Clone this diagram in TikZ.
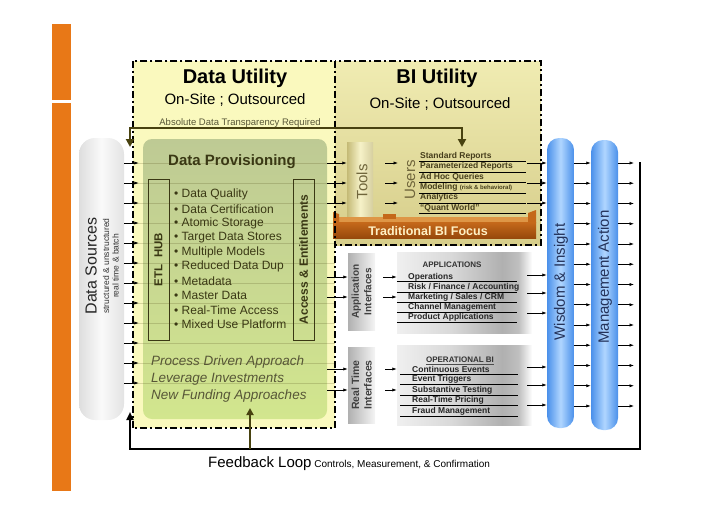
\documentclass[tikz,border=0pt]{standalone}
\usepackage{fontspec}
\setmainfont{Liberation Sans}
\usetikzlibrary{arrows.meta}
\definecolor{orng}{RGB}{232,120,23}
\definecolor{duyel}{RGB}{250,249,190}
\definecolor{olivetxt}{RGB}{58,56,20}
\definecolor{oliveline}{RGB}{72,66,16}
\definecolor{bitop}{RGB}{240,236,178}
\definecolor{bibot}{RGB}{214,205,138}
\definecolor{dptop}{RGB}{190,202,148}
\definecolor{dpbot}{RGB}{210,230,142}
\definecolor{blueE}{RGB}{74,144,234}
\definecolor{blueC}{RGB}{176,214,255}
\definecolor{brownD}{RGB}{150,72,10}
\definecolor{brownM}{RGB}{196,104,26}
\definecolor{brownL}{RGB}{222,150,70}
\definecolor{cream}{RGB}{255,240,196}
\definecolor{listtxt}{RGB}{70,62,28}
\definecolor{toolL}{RGB}{196,186,118}
\definecolor{toolC}{RGB}{246,242,200}
\definecolor{tooltxt}{RGB}{112,102,60}
\definecolor{bluetxt}{RGB}{35,50,90}
\pgfdeclarehorizontalshading{panelshade}{100bp}{color(0bp)=(gray!12); color(25bp)=(gray!12); color(45bp)=(gray!30); color(64bp)=(gray!62); color(70bp)=(gray!50); color(75bp)=(white); color(100bp)=(white)}
\begin{document}
\begin{tikzpicture}[x=1pt,y=-1pt,
  arr/.style={-{Latex[length=4.5pt,width=3.2pt]}, line width=0.7pt, draw=black},
  dashbox/.style={draw=black, line width=1.5pt, dash pattern=on 7pt off 3pt on 2pt off 3pt},
  pill/.style={draw=none, inner sep=0pt},
  ulist/.style={anchor=west, inner sep=0pt, text=listtxt, font=\bfseries\fontsize{8.5}{10}\selectfont},
  alist/.style={anchor=west, inner sep=0pt, text=black!85, font=\bfseries\fontsize{8.5}{10}\selectfont},
  bul/.style={anchor=west, inner sep=0pt, text=olivetxt, font=\fontsize{12}{14}\selectfont},
  ital/.style={anchor=west, inner sep=0pt, text=olivetxt!85, font=\itshape\fontsize{13.5}{16}\selectfont},
  uline/.style={line width=0.8pt, draw=black},
  rottxt/.style={rotate=90, inner sep=0pt},
]
\useasboundingbox (0,0) rectangle (728,514);
% orange bar
\fill[orng] (52,24) rectangle (71,100);
\fill[orng] (52,103) rectangle (71,491);

% utility backgrounds
\node[pill, fill=duyel, minimum width=202pt, minimum height=367pt] (du) at (234,244.5) {};
\node[pill, top color=bitop, bottom color=bibot, minimum width=206pt, minimum height=184pt] (bi) at (438,153) {};

% data provisioning
\node[pill, rounded corners=9pt, top color=dptop, bottom color=dpbot, minimum width=184pt, minimum height=280pt] (dp) at (235,279) {};
\foreach \y in {163,183,...,383}
  \draw[oliveline, opacity=0.2, line width=0.5pt] (du.west |- 0,\y) -- (du.east |- 0,\y);

% titles
\node[font=\bfseries\fontsize{20}{24}\selectfont] (dut) at (235,78) {Data Utility};
\node[font=\fontsize{15}{18}\selectfont] (dus) at (235,100.5) {On-Site ; Outsourced};
\node[font=\bfseries\fontsize{20}{24}\selectfont] (bit) at (437,78) {BI Utility};
\node[font=\fontsize{15}{18}\selectfont] (bis) at (440,104) {On-Site ; Outsourced};
\node[font=\fontsize{9.5}{11}\selectfont, text=olivetxt!85, inner sep=0pt] (adt) at (240,123) {Absolute Data Transparency Required};

\node[font=\bfseries\fontsize{15}{18}\selectfont, text=olivetxt] (dpt) at (232,162) {Data Provisioning};

% ETL HUB and Access boxes
\node[draw=olivetxt, line width=0.8pt, minimum width=21pt, minimum height=161pt, inner sep=0pt] (etl) at (158.5,259.5) {};
\node[rottxt, font=\bfseries\fontsize{11.5}{13}\selectfont, text=olivetxt] (etlt) at (etl.center) {ETL\ \ HUB};
\node[draw=olivetxt, line width=0.8pt, minimum width=21pt, minimum height=161pt, inner sep=0pt] (acc) at (303.5,259.5) {};
\node[rottxt, font=\bfseries\fontsize{12}{14}\selectfont, text=olivetxt] (acct) at (acc.center) {Access \& Entitlements};

% bullets
\foreach \t [count=\i from 0] in {Data Quality, Data Certification, Atomic Storage, Target Data Stores, Multiple Models, Reduced Data Dup, Metadata, Master Data, Real-Time Access, Mixed Use Platform}
  \node[bul] (bl\i) at (174,194.5+14.44*\i) {\textbullet\ \t};

\node[ital] (it1) at (151,362) {Process Driven Approach};
\node[ital] (it2) at (151,379) {Leverage Investments};
\node[ital] (it3) at (151,396) {New Funding Approaches};

% data sources
\node[pill, rounded corners=16pt, left color=gray!26, right color=gray!22, middle color=gray!4, minimum width=45pt, minimum height=282pt] (ds) at (101.5,279) {};
\node[rottxt, font=\fontsize{16}{19}\selectfont, text=black!85] (dst) at (91,266) {Data Sources};
\node[rottxt, align=center, font=\fontsize{8.5}{9.5}\selectfont, text=black!80] (dss) at (110.75,266) {structured \& unstructured\\real time \& batch};
\foreach \y in {163,183,...,383}
  \draw[arr, shorten >=-6pt] (ds.east |- 0,\y) -- (du.west |- 0,\y);

% tools / users
\node[pill, left color=toolL, right color=toolL!70!white, middle color=toolC, minimum width=26pt, minimum height=77pt] (tools) at (360,180.5) {};
\node[rottxt, font=\fontsize{15}{18}\selectfont, text=tooltxt] (toolst) at (362,182) {Tools};
\node[rottxt, font=\fontsize{15}{18}\selectfont, text=tooltxt] (users) at (410,180) {Users};
\coordinate (uin) at (398,180);
\coordinate (outL) at (527,180);

% traditional BI focus tray
\fill[brownL] (337,217) -- (533,217) -- (531,223) -- (339,223) -- cycle;
\fill[brownM] (333,212) -- (339,214) -- (339,223) -- (333,223) -- cycle;
\fill[brownM] (528,213) -- (536,210) -- (536,223) -- (528,223) -- cycle;
\fill[brownM] (383,214) rectangle (396,219);
\node[pill, top color=brownM, bottom color=brownD, minimum width=203pt, minimum height=16pt] (tbf) at (434.5,230.5) {};
\node[font=\bfseries\fontsize{12.5}{15}\selectfont, text=cream] (tbft) at (428,231) {Traditional BI Focus};

% users list
\node[ulist] (u0) at (420,156) {Standard Reports};
\node[ulist] (u1) at (420,166.4) {Parameterized Reports};
\node[ulist] (u2) at (420,176.8) {Ad Hoc Queries};
\node[ulist] (u3) at (420,187.2) {Modeling {\fontsize{6}{7}\selectfont (risk \& behavioral)}};
\node[ulist] (u4) at (420,197.6) {Analytics};
\node[ulist] (u5) at (420,208) {“Quant World”};
\foreach \i in {0,...,5}
  \draw[uline] (419,161.8+10.4*\i) -- (526,161.8+10.4*\i);
\foreach \y in {163,183,203} {
  \draw[arr] (dp.east |- 0,\y) -- (tools.west |- 0,\y);
  \draw[arr, shorten <=12pt] (tools.east |- 0,\y) -- (uin |- 0,\y);
}

% applications
\node[pill, left color=gray!62, right color=gray!8, minimum width=27pt, minimum height=77pt] (appif) at (361.5,291.5) {};
\node[rottxt, align=center, font=\bfseries\fontsize{10}{12.5}\selectfont, text=black!75] (appift) at (appif.center) {Application\\Interfaces};
\node[pill, shading=panelshade, minimum width=135pt, minimum height=81pt] (apps) at (464.5,292.5) {};
\node[font=\bfseries\fontsize{8}{10}\selectfont, text=black!80, inner sep=0pt] (appst) at (452,265) {APPLICATIONS};
\foreach \t [count=\i from 0] in {Operations, {Risk / Finance / Accounting}, {Marketing / Sales / CRM}, Channel Management, Product Applications}
  \node[alist] (a\i) at (408,277+10.1*\i) {\t};
\foreach \i in {0,...,4}
  \draw[uline] (apps.west |- 0,281.8+10.1*\i) -- ++(120,0);
\foreach \y in {277,297} {
  \draw[arr] (dp.east |- 0,\y) -- (appif.west |- 0,\y);
  \draw[arr, shorten <=8pt] (appif.east |- 0,\y) -- (apps.west |- 0,\y);
}

% operational BI
\node[pill, left color=gray!62, right color=gray!8, minimum width=27pt, minimum height=76pt] (rtif) at (361.5,385) {};
\node[rottxt, align=center, font=\bfseries\fontsize{10.5}{12.5}\selectfont, text=black!75] (rtift) at (rtif.center) {Real Time\\Interfaces};
\node[pill, shading=panelshade, minimum width=135pt, minimum height=80pt] (obi) at (464.5,385) {};
\node[font=\bfseries\fontsize{8}{10}\selectfont, text=black!80, inner sep=0pt] (obit) at (460,360) {OPERATIONAL BI};
\draw[line width=0.5pt, black!70] (obit.south west) ++(0,1.5) -- ([yshift=-1.5pt]obit.south east);
\foreach \t [count=\i from 0] in {Continuous Events, Event Triggers, Substantive Testing, Real-Time Pricing, Fraud Management}
  \node[alist] (o\i) at (412,369+10.5*\i) {\t};
\foreach \i in {0,...,4}
  \draw[uline] (400,374.2+10.5*\i) -- ++(118,0);
\foreach \y in {369,390} {
  \draw[arr] (dp.east |- 0,\y) -- (rtif.west |- 0,\y);
  \draw[arr, shorten <=10pt] (rtif.east |- 0,\y) -- (obi.west |- 0,\y);
}

% wisdom / management
\node[pill, rounded corners=12pt, left color=blueE, right color=blueE, middle color=blueC, minimum width=27pt, minimum height=290pt] (wis) at (560.5,283) {};
\node[pill, rounded corners=12pt, left color=blueE, right color=blueE, middle color=blueC, minimum width=27pt, minimum height=290pt] (mgmt) at (604.5,285) {};
\node[rottxt, font=\fontsize{15}{18}\selectfont, text=bluetxt] (wist) at (561,282) {Wisdom \& Insight};
\node[rottxt, font=\fontsize{15}{18}\selectfont, text=bluetxt] (mgmtt) at (605,277) {Management Action};
\foreach \y in {163,183,203,275,293,313,367,385,405}
  \draw[arr] (outL |- 0,\y) -- (wis.west |- 0,\y);

% feedback loop
\coordinate (fbtop) at (640,162);
\coordinate (fbbr) at (640,449);
\coordinate (fbbl) at (130,449);
\coordinate (fbend) at (130,412);
\coordinate (fb2) at (250,449);
\coordinate (fb2end) at (250,408);
\foreach \i in {0,...,12} {
  \pgfmathsetmacro\yy{163+20.25*\i}
  \draw[arr] (wis.east |- 0,\yy) -- (mgmt.west |- 0,\yy);
  \draw[arr, shorten >=6pt] (mgmt.east |- 0,\yy) -- (fbtop |- 0,\yy);
}

% dashed utility borders
\draw[dashbox] (du.north west) rectangle (du.south east);
\draw[dashbox] (bi.north west) rectangle (bi.south east);

% transparency arrow
\coordinate (tl) at (130,147);
\coordinate (tm) at (462,128);
\coordinate (tr) at (462,147);
\draw[oliveline, line width=2.4pt, {Triangle[length=8pt,width=8pt]}-{Triangle[length=8pt,width=8pt]}] (tl) |- (tm) -- (tr);

\draw[black, line width=2.2pt, -{Triangle[length=8pt,width=7pt]}] (fbtop) -- (fbbr) -- (fbbl) -- (fbend);
\draw[oliveline, line width=2pt, -{Triangle[length=7pt,width=7pt]}] (fb2) -- (fb2end);
\node[anchor=base west, inner sep=0pt] (fbt) at (208,467) {{\fontsize{15}{18}\selectfont Feedback Loop} {\fontsize{10}{12}\selectfont Controls, Measurement, \& Confirmation}};
\end{tikzpicture}
\end{document}
